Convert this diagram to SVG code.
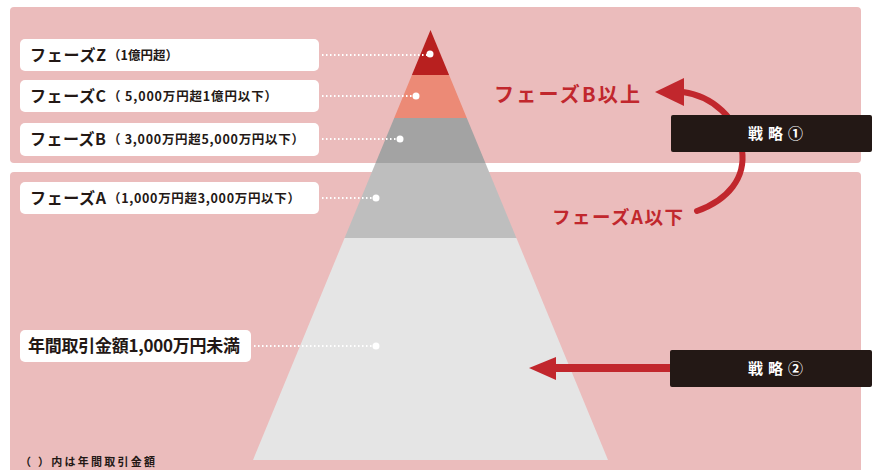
<svg xmlns="http://www.w3.org/2000/svg" width="872" height="470" viewBox="0 0 872 470">
<style>
.panel{fill:#ebbcbc}
.lbl{fill:#ffffff}
.t{font-family:"Noto Sans CJK JP","Noto Sans",sans-serif;font-weight:bold;fill:#231815}
.big{font-size:16px}
.sm{font-size:12.5px}
.red{font-family:"Noto Sans CJK JP","Noto Sans",sans-serif;font-weight:bold;fill:#c1272d}
.dot{stroke:#ffffff;stroke-width:2;stroke-dasharray:1.5 2.5;fill:none}
.pt{fill:#ffffff}
.blk{fill:#231815}
.wt{font-family:"Noto Sans CJK JP","Noto Sans",sans-serif;font-weight:bold;fill:#ffffff;font-size:15px;letter-spacing:5px}
</style>
<rect class="panel" x="10" y="7" width="851" height="156" rx="4"/>
<rect class="panel" x="10" y="172" width="851" height="310" rx="4"/>
<g id="pyramid">
<polygon points="430.5,30 449.1,75 411.9,75" fill="#b8201f"/>
<polygon points="411.9,75 449.1,75 466.8,118 394.2,118" fill="#ec8a76"/>
<polygon points="394.2,118 466.8,118 485.4,163 375.6,163" fill="#a3a3a3"/>
<polygon points="375.6,163 485.4,163 516.4,238 344.6,238" fill="#bebebe"/>
<polygon points="344.6,238 516.4,238 608,460 253,460" fill="#e5e5e5"/>
</g>
<g id="connectors">
<path class="dot" d="M322 55 H427"/>
<path class="dot" d="M322 96 H413"/>
<path class="dot" d="M322 139 H397"/>
<path class="dot" d="M322 198 H373"/>
<path class="dot" d="M254 346 H373"/>
<circle class="pt" cx="430" cy="54" r="3.5"/>
<circle class="pt" cx="416" cy="96" r="3.5"/>
<circle class="pt" cx="400" cy="139" r="3.5"/>
<circle class="pt" cx="376" cy="198" r="3.5"/>
<circle class="pt" cx="376" cy="346" r="3.5"/>
<path d="M697 211 C728 200 746 178 742 150 C738 118 712 96 683 92" fill="none" stroke="#c1272d" stroke-width="6" stroke-linecap="round"/>
<polygon points="655,92 684,78 684,106" fill="#c1272d"/>
<rect x="553" y="364" width="120" height="8" fill="#c1272d"/>
<polygon points="529,368 556,357 556,380" fill="#c1272d"/>
</g>
<g id="labelZ">
<rect class="lbl" x="20" y="39" width="299" height="32" rx="5"/>
<text class="t big" x="30" y="61" textLength="76" lengthAdjust="spacing">フェーズZ</text>
<text class="t sm" x="108" y="60" textLength="70" lengthAdjust="spacing">（1億円超）</text>
</g>
<g id="labelC">
<rect class="lbl" x="20" y="80" width="299" height="32" rx="5"/>
<text class="t big" x="30" y="102" textLength="76" lengthAdjust="spacing">フェーズC</text>
<text class="t sm" x="108" y="101" textLength="169" lengthAdjust="spacing">（ 5,000万円超1億円以下）</text>
</g>
<g id="labelB">
<rect class="lbl" x="20" y="123" width="299" height="33" rx="5"/>
<text class="t big" x="30" y="145" textLength="76" lengthAdjust="spacing">フェーズB</text>
<text class="t sm" x="108" y="144" textLength="196" lengthAdjust="spacing">（ 3,000万円超5,000万円以下）</text>
</g>
<g id="labelA">
<rect class="lbl" x="20" y="182" width="299" height="32" rx="5"/>
<text class="t big" x="30" y="204" textLength="76" lengthAdjust="spacing">フェーズA</text>
<text class="t sm" x="108" y="203" textLength="192" lengthAdjust="spacing">（1,000万円超3,000万円以下）</text>
</g>
<g id="labelBase">
<rect class="lbl" x="20" y="330" width="231" height="32" rx="5"/>
<text class="t" x="28" y="352" font-size="17" textLength="212" lengthAdjust="spacing">年間取引金額1,000万円未満</text>
</g>
<g id="phaseB">
<text class="red" x="494" y="102" font-size="20" textLength="146" lengthAdjust="spacing">フェーズB以上</text>
</g>
<g id="phaseA">
<text class="red" x="552" y="224" font-size="18.5" textLength="131" lengthAdjust="spacing">フェーズA以下</text>
</g>
<g id="strategy1">
<rect class="blk" x="671" y="115" width="201" height="37" rx="2"/>
<text class="wt" x="778" y="139" text-anchor="middle">戦略①</text>
</g>
<g id="strategy2">
<rect class="blk" x="670" y="350" width="202" height="37" rx="2"/>
<text class="wt" x="778" y="374" text-anchor="middle">戦略②</text>
</g>
<text class="t" x="20" y="466" font-size="11" fill="#333" textLength="135" lengthAdjust="spacing">（ ）内は年間取引金額</text>
</svg>
